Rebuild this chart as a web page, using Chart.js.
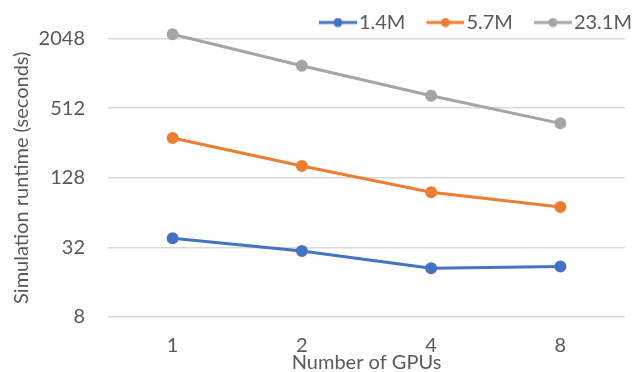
<html>
<head>
<style>
  body { margin: 0; background: #fff; }
  #wrap { width: 635px; height: 372px; }
</style>
</head>
<body>
<div id="wrap"><canvas id="myChart"></canvas></div>
<script src="https://cdn.jsdelivr.net/npm/chart.js@4.4.0/dist/chart.umd.min.js"></script>
<script>
const gpus = ['1', '2', '4', '8'];
const run14 = [38.3, 29.8, 21.1, 21.9];
const run57 = [282, 162, 95.8, 71.5];
const run231 = [2230, 1190, 656, 378];
const yTicks = [8, 32, 128, 512, 2048];

const FONT = 'Lato';
const TXT = '#595959';

// legend icon: line with a dot, with empty space on the left for spacing
function legendIcon(color) {
    const c = document.createElement('canvas');
    c.width = 64; c.height = 10;
    const g = c.getContext('2d');
    g.strokeStyle = color; g.lineWidth = 3;
    g.beginPath(); g.moveTo(26, 5); g.lineTo(64, 5); g.stroke();
    g.fillStyle = color;
    g.beginPath(); g.arc(45, 5, 4.5, 0, Math.PI * 2); g.fill();
    return c;
}

function series(label, values, color) {
    return {
        label,
        data: values,
        borderColor: color,
        backgroundColor: color,
        borderWidth: 3,
        pointRadius: 4.5,
        pointHoverRadius: 4.5,
        pointStyle: 'circle',
        tension: 0,
        clip: false,
        icon: legendIcon(color)
    };
}

const data = {
    labels: gpus,
    datasets: [
        series('1.4M', run14, '#4472C4'),
        series('5.7M', run57, '#ED7D31'),
        series('23.1M', run231, '#A5A5A5')
    ]
};

const config = {
    type: 'line',
    data,
    options: {
        responsive: true,
        maintainAspectRatio: false,
        animation: false,
        layout: { padding: { left: 10, right: 0, top: 5.5, bottom: 0 } },
        plugins: {
            legend: {
                position: 'top',
                align: 'end',
                labels: {
                    usePointStyle: true,
                    pointStyleWidth: 48,
                    boxHeight: 10,
                    padding: 3,
                    color: TXT,
                    font: { family: FONT, size: 20 },
                    generateLabels: (chart) => chart.data.datasets.map((ds, i) => ({
                        text: ds.label,
                        pointStyle: ds.icon,
                        fillStyle: ds.borderColor,
                        strokeStyle: ds.borderColor,
                        lineWidth: 0,
                        fontColor: TXT,
                        datasetIndex: i
                    }))
                }
            },
            tooltip: { enabled: false }
        },
        scales: {
            x: {
                offset: true,
                afterFit: (s) => { s.height = 55; s.paddingRight = 10; },
                grid: { display: false, drawTicks: false },
                border: { display: false },
                ticks: { color: TXT, font: { family: FONT, size: 20 }, padding: 17 },
                title: {
                    display: true,
                    text: 'Number of GPUs',
                    color: TXT,
                    font: { family: FONT, size: 20 },
                    padding: { top: 0, bottom: -3 }
                }
            },
            y: {
                type: 'logarithmic',
                min: 8,
                max: 2048,
                afterFit: (s) => { s.width = 98; },
                afterBuildTicks: (scale) => {
                    scale.ticks = yTicks.map(v => ({ value: v }));
                },
                grid: { color: '#D9D9D9', lineWidth: 1.5, drawTicks: false },
                border: { display: false },
                ticks: {
                    color: TXT,
                    font: { family: FONT, size: 20 },
                    padding: 23,
                    callback: (v) => String(v)
                },
                title: {
                    display: true,
                    text: 'Simulation runtime (seconds)',
                    color: TXT,
                    font: { family: FONT, size: 20 },
                    padding: { top: 0, bottom: 0 }
                }
            }
        }
    },
    plugins: [
        {
            // nudge the legend row down a little
            id: 'legend_nudge',
            afterLayout: (chart) => {
                chart.legend.top += 4;
                chart.legend.bottom += 4;
            }
        }
    ]
};

new Chart(document.getElementById('myChart').getContext('2d'), config);
</script>
</body>
</html>
